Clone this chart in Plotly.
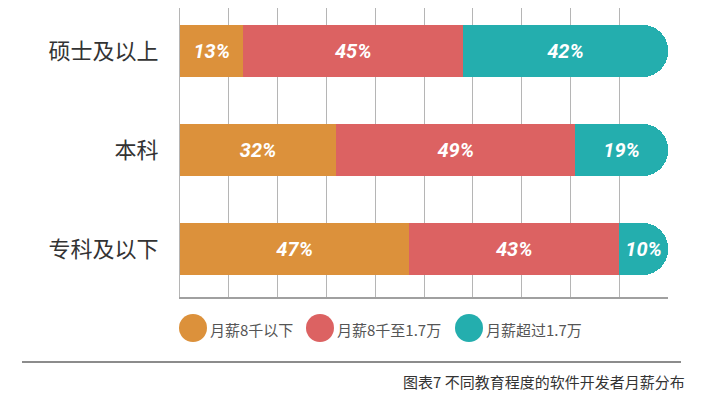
import plotly.graph_objects as go

categories = ["硕士及以上", "本科", "专科及以下"]
series_names = ["月薪8千以下", "月薪8千至1.7万", "月薪超过1.7万"]
low = [13, 32, 47]
mid = [45, 49, 43]
high = [42, 19, 10]
colors = ["#DC913B", "#DC6262", "#24AEAE"]
caption = "图表7 不同教育程度的软件开发者月薪分布"

cjk = "Noto Sans CJK SC, Noto Sans, sans-serif"

fig = go.Figure()
for name, vals, col in zip(series_names, [low, mid, high], colors):
    fig.add_trace(go.Bar(
        y=categories, x=vals, orientation="h", name=name,
        marker=dict(color=col, line=dict(width=0)),
        text=[f"{v}%" for v in vals],
        textposition="inside", insidetextanchor="middle",
        constraintext="none",
        textfont=dict(family="Roboto, DejaVu Sans", size=20, color="white",
                      weight=700, style="italic"),
        width=0.525, showlegend=False,
    ))

# page body has an 8px margin: size the figure to fill the rest of the window
fig.update_layout(
    barmode="stack",
    barcornerradius=26,
    width=693, height=387,
    margin=dict(l=172, r=33, t=0, b=98),
    paper_bgcolor="white", plot_bgcolor="white",
    xaxis=dict(range=[0, 100], dtick=10, showgrid=True, gridcolor="#b5b5b5",
               gridwidth=1, showticklabels=False, zeroline=False,
               showline=True, linecolor="#a0a0a0", linewidth=2, ticks=""),
    yaxis=dict(range=[2.485, -0.434], showgrid=False, zeroline=False,
               showline=True, linecolor="#b5b5b5", linewidth=1, ticks="",
               ticklabelstandoff=16,
               tickfont=dict(family=cjk, size=22, color="#333333")),
)

legend_x = [193, 320, 469]
shapes = []
annotations = []
for lx, name, col in zip(legend_x, series_names, colors):
    shapes.append(dict(type="circle", xref="paper", yref="paper",
                       x0=(lx - 14 - 180) / 488, x1=(lx + 14 - 180) / 488,
                       y0=(297 - 328 - 14) / 289, y1=(297 - 328 + 14) / 289,
                       fillcolor=col, line=dict(width=0)))
    annotations.append(dict(xref="paper", yref="paper",
                            x=(lx + 15 - 180) / 488, y=(297 - 329) / 289,
                            text=name, showarrow=False, xanchor="left",
                            yanchor="middle",
                            font=dict(family=cjk, size=15, color="#555555")))

shapes.append(dict(type="line", xref="paper", yref="paper",
                   x0=(22 - 180) / 488, x1=(681 - 180) / 488,
                   y0=(297 - 362) / 289, y1=(297 - 362) / 289,
                   line=dict(color="#666666", width=1.5)))
annotations.append(dict(xref="paper", yref="paper",
                        x=(687 - 180) / 488, y=(297 - 381) / 289,
                        text=caption, showarrow=False, xanchor="right",
                        yanchor="middle",
                        font=dict(family=cjk, size=15, color="#333333")))

fig.update_layout(shapes=shapes, annotations=annotations)
fig.write_html("out.html")
